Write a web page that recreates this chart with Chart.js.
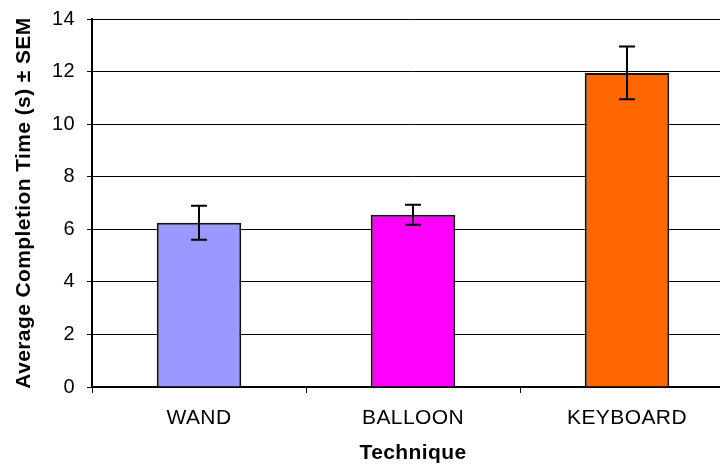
<!DOCTYPE html>
<html>
<head>
<meta charset="utf-8">
<script src="https://cdn.jsdelivr.net/npm/chart.js@4"></script>
<style>
  html, body { margin: 0; padding: 0; background: #fff; overflow: hidden; }
  #wrap { width: 740px; height: 465px; }
</style>
</head>
<body>
<div id="wrap"><canvas id="chart" width="740" height="465"></canvas></div>
<script>
// dados
const techniques = ['WAND', 'BALLOON', 'KEYBOARD'];
const meanTimes = [6.25, 6.55, 11.95];
const semValues = [0.65, 0.38, 1.0];
const barColors = ['#9999ff', '#ff00ff', '#ff6600'];
const yTicks = [0, 2, 4, 6, 8, 10, 12, 14];

// leve espaçamento de letras, como no original
const spacing = {
  id: 'spacing',
  beforeLayout(chart) { chart.ctx.letterSpacing = '0.4px'; },
  beforeDraw(chart) { chart.ctx.letterSpacing = '0.4px'; }
};

// barras de erro desenhadas depois das barras
const errorBars = {
  id: 'errorBars',
  afterDatasetsDraw(chart) {
    const ctx = chart.ctx;
    const y = chart.scales.y;
    const meta = chart.getDatasetMeta(0);
    ctx.save();
    ctx.strokeStyle = '#000';
    ctx.lineWidth = 2;
    meta.data.forEach((bar, i) => {
      const top = y.getPixelForValue(meanTimes[i] + semValues[i]);
      const bot = y.getPixelForValue(meanTimes[i] - semValues[i]);
      ctx.beginPath();
      ctx.moveTo(bar.x, top); ctx.lineTo(bar.x, bot);
      ctx.moveTo(bar.x - 8, top); ctx.lineTo(bar.x + 8, top);
      ctx.moveTo(bar.x - 8, bot); ctx.lineTo(bar.x + 8, bot);
      ctx.stroke();
    });
    ctx.restore();
  }
};

new Chart(document.getElementById('chart'), {
  type: 'bar',
  data: {
    labels: techniques,
    datasets: [{
      data: meanTimes,
      backgroundColor: barColors,
      borderColor: '#111',
      borderWidth: 2,
      barPercentage: 0.395,
      categoryPercentage: 1
    }]
  },
  options: {
    responsive: false,
    animation: false,
    layout: { padding: { top: 19, left: 0, right: 6, bottom: 0 } },
    plugins: { legend: { display: false }, tooltip: { enabled: false } },
    scales: {
      x: {
        afterFit: s => { s.height = 78; },
        grid: { drawOnChartArea: false, offset: true, tickLength: 6, color: '#000' },
        border: { color: '#000', width: 1.5 },
        ticks: { color: '#000', font: { family: 'Liberation Sans', size: 21 }, padding: 13 },
        title: { display: true, text: 'Technique', color: '#000', font: { family: 'Liberation Sans', size: 21, weight: 'bold' }, padding: { top: 0, bottom: -1 } }
      },
      y: {
        min: 0, max: 14,
        afterFit: s => { s.width = 92; s.paddingTop = 0; s.paddingBottom = 0; },
        afterBuildTicks: s => { s.ticks = yTicks.map(v => ({ value: v })); },
        grid: { color: '#000', lineWidth: 1, tickLength: 5 },
        border: { color: '#000', width: 2 },
        ticks: { color: '#000', font: { family: 'Liberation Sans', size: 20 }, padding: 12 },
        title: { display: true, text: 'Average Completion Time (s) ± SEM', color: '#000', font: { family: 'Liberation Sans', size: 21, weight: 'bold' }, padding: { top: 12 } }
      }
    }
  },
  plugins: [spacing, errorBars]
});
</script>
</body>
</html>
